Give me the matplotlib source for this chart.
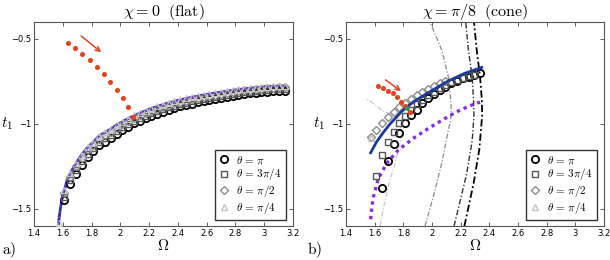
import matplotlib
matplotlib.use("Agg")
import matplotlib.pyplot as plt
from matplotlib.lines import Line2D

plt.rcParams['mathtext.fontset'] = 'cm'
plt.rcParams['font.family'] = ['DejaVu Sans']

# ---------------- data ----------------
omega_grid = [1.571, 1.611, 1.651, 1.692, 1.732, 1.772, 1.812, 1.853, 1.893, 1.933,
              1.974, 2.014, 2.054, 2.094, 2.135, 2.175, 2.215, 2.256, 2.296, 2.336,
              2.376, 2.417, 2.457, 2.497, 2.538, 2.578, 2.618, 2.659, 2.699, 2.739,
              2.780, 2.820, 2.860, 2.900, 2.941, 2.981, 3.021, 3.062, 3.102, 3.142]

# panel a) chi = 0 (flat)
flat_circle = [-1.447, -1.355, -1.292, -1.240, -1.196, -1.161, -1.125, -1.103, -1.082, -1.056,
               -1.036, -1.016, -0.997, -0.982, -0.967, -0.953, -0.941, -0.929, -0.917, -0.907,
               -0.897, -0.889, -0.880, -0.873, -0.865, -0.858, -0.851, -0.845, -0.839, -0.833,
               -0.828, -0.823, -0.819, -0.815, -0.812, -0.809, -0.807, -0.805, -0.804]
flat_square = [-1.427, -1.332, -1.270, -1.219, -1.176, -1.141, -1.106, -1.084, -1.064, -1.039,
               -1.019, -0.999, -0.981, -0.966, -0.951, -0.938, -0.926, -0.914, -0.902, -0.893,
               -0.883, -0.875, -0.867, -0.860, -0.852, -0.846, -0.839, -0.833, -0.828, -0.822,
               -0.817, -0.813, -0.809, -0.805, -0.802, -0.799, -0.797, -0.795, -0.794]
flat_diamond = [-1.407, -1.310, -1.249, -1.198, -1.155, -1.122, -1.087, -1.066, -1.046, -1.021,
                -1.002, -0.982, -0.964, -0.950, -0.936, -0.922, -0.910, -0.899, -0.888, -0.878,
                -0.869, -0.862, -0.853, -0.847, -0.840, -0.834, -0.827, -0.822, -0.817, -0.811,
                -0.806, -0.802, -0.798, -0.795, -0.792, -0.789, -0.787, -0.785, -0.784]
flat_triangle = [-1.585, -1.390, -1.290, -1.230, -1.180, -1.138, -1.105, -1.070, -1.050, -1.030,
                 -1.006, -0.987, -0.968, -0.950, -0.936, -0.922, -0.909, -0.897, -0.886, -0.875,
                 -0.866, -0.857, -0.850, -0.842, -0.836, -0.829, -0.823, -0.817, -0.812, -0.807,
                 -0.802, -0.797, -0.793, -0.789, -0.786, -0.783, -0.780, -0.778, -0.777, -0.776]
flat_curve_omega = [1.5708, 1.573, 1.577, 1.585, 1.595, 1.611, 1.630, 1.651, 1.692, 1.732,
                    1.772, 1.812, 1.853, 1.893, 1.933, 1.974, 2.054, 2.135, 2.215, 2.296,
                    2.376, 2.457, 2.538, 2.618, 2.699, 2.780, 2.860, 2.941, 3.021, 3.102, 3.142]
flat_curve_t = [-1.585, -1.565, -1.535, -1.49, -1.44, -1.39, -1.33, -1.29, -1.23, -1.18,
                -1.138, -1.105, -1.07, -1.05, -1.03, -1.006, -0.968, -0.936, -0.909, -0.886,
                -0.866, -0.850, -0.836, -0.823, -0.812, -0.802, -0.793, -0.786, -0.780, -0.777, -0.776]
flat_red_omega = [1.638, 1.687, 1.736, 1.787, 1.838, 1.884, 1.930, 1.977, 2.018, 2.055, 2.090]
flat_red_t = [-0.522, -0.555, -0.590, -0.625, -0.665, -0.708, -0.751, -0.798, -0.849, -0.902, -0.957]
flat_arrow = [(1.713, -0.472), (1.882, -0.588)]

# panel b) chi = pi/8 (cone)
cone_circle = [-1.378, -1.218, -1.118, -1.051, -0.996, -0.949, -0.915, -0.878, -0.849, -0.824,
               -0.800, -0.780, -0.761, -0.745, -0.731, -0.722, -0.712, -0.702]          # k = 2..19
cone_square = [-1.304, -1.182, -1.104, -1.045, -0.992, -0.951, -0.915, -0.884, -0.856, -0.831,
               -0.809, -0.789, -0.771, -0.755, -0.741, -0.729, -0.719, -0.710]          # k = 1..18
cone_diamond = [-1.075, -1.035, -0.992, -0.958, -0.928, -0.900, -0.874, -0.851, -0.830, -0.810,
                -0.792, -0.776, -0.760, -0.745]                                          # k = 0..13
cone_triangle = [-1.085]                                                                 # k = 0
cone_blue_omega = [1.572, 1.614, 1.660, 1.707, 1.790, 1.870, 1.986, 2.103, 2.219, 2.347]
cone_blue_t = [-1.169, -1.104, -1.050, -1.000, -0.925, -0.870, -0.810, -0.752, -0.705, -0.667]
cone_purple_omega = [1.572, 1.580, 1.591, 1.626, 1.684, 1.765, 1.870, 1.986, 2.126, 2.196, 2.265, 2.335]
cone_purple_t = [-1.56, -1.49, -1.43, -1.32, -1.231, -1.153, -1.084, -1.02, -0.95, -0.918, -0.893, -0.871]
cone_red_omega = [1.626, 1.660, 1.695, 1.726, 1.754, 1.782, 1.812, 1.847]
cone_red_t = [-0.776, -0.790, -0.804, -0.819, -0.839, -0.869, -0.894, -0.928]
cone_green = (1.824, -0.908)
cone_arrow = [(1.660, -0.731), (1.800, -0.816)]
arc_light_omega = [1.637, 1.660, 1.700, 1.742, 1.775, 1.789, 1.780, 1.740, 1.660, 1.580, 1.540]
arc_light_t = [-1.6, -1.5, -1.35, -1.231, -1.12, -1.05, -0.98, -0.95, -0.925, -0.872, -0.85]
arc_grey_omega = [1.951, 2.009, 2.068, 2.114, 2.131, 2.134, 2.131, 2.114, 2.068, 1.986]
arc_grey_t = [-1.6, -1.428, -1.231, -1.035, -0.976, -0.9, -0.859, -0.722, -0.565, -0.4]
arc_a_omega = [2.154, 2.240, 2.280, 2.293, 2.290, 2.280, 2.254, 2.235]
arc_a_t = [-1.6, -1.3, -1.1, -0.95, -0.86, -0.72, -0.565, -0.4]
arc_b_omega = [2.226, 2.290, 2.330, 2.350, 2.348, 2.335, 2.312, 2.293]
arc_b_t = [-1.6, -1.35, -1.15, -0.95, -0.86, -0.72, -0.565, -0.4]

labels = [r'$\theta\,=\,\pi$', r'$\theta\,=\,3\pi/4$', r'$\theta\,=\,\pi/2$', r'$\theta\,=\,\pi/4$']
xticks = [1.4, 1.6, 1.8, 2.0, 2.2, 2.4, 2.6, 2.8, 3.0, 3.2]
xticklabels = ['1.4', '1.6', '1.8', '2', '2.2', '2.4', '2.6', '2.8', '3', '3.2']
yticks = [-1.5, -1.0, -0.5]
yticklabels = ['\u22121.5', '\u22121', '\u22120.5']

# ---------------- styles ----------------
RED = '#e8401c'
BLUE = '#1c3a9a'
PURPLE = '#8a2be2'
mk = dict(linestyle='none', markerfacecolor='none')
st_circle = dict(marker='o', markersize=5.2, markeredgecolor='black', markeredgewidth=1.3, **mk)
st_square = dict(marker='s', markersize=4.2, markeredgecolor='#555555', markeredgewidth=1.0, **mk)
st_diamond = dict(marker='D', markersize=3.8, markeredgecolor='#8c8c8c', markeredgewidth=1.0, **mk)
st_triangle = dict(marker='^', markersize=5.0, markeredgecolor='#c4c4c4', markeredgewidth=1.0, **mk)

fig = plt.figure(figsize=(6.1, 2.6), dpi=100)
axA = fig.add_axes([34/610, 34/260, 259/610, 204/260])
axB = fig.add_axes([346/610, 34/260, 258/610, 204/260])


def style_axes(ax, title):
    ax.set_xlim(1.4, 3.2)
    ax.set_ylim(-1.6, -0.4)
    ax.set_xticks(xticks)
    ax.set_xticklabels(xticklabels)
    ax.set_yticks(yticks)
    ax.set_yticklabels(yticklabels)
    ax.tick_params(direction='in', length=3, width=0.6, labelsize=6, top=True, right=True,
                   colors='#444444', labelcolor='black', pad=2)
    for s in ax.spines.values():
        s.set_color('#555555')
        s.set_linewidth(0.8)
    ax.set_title(title, fontsize=11.5, pad=4)
    ax.set_xlabel(r'$\Omega$', fontsize=11, labelpad=0)
    ax.set_ylabel(r'$t_1$', fontsize=11, rotation=0, labelpad=4)
    ax.yaxis.set_label_coords(-0.105, 0.46)
    handles = [Line2D([], [], **st_circle), Line2D([], [], **st_square),
               Line2D([], [], **st_diamond), Line2D([], [], **st_triangle)]
    leg = ax.legend(handles, labels, loc='lower right', bbox_to_anchor=(0.973, 0.029),
                    borderaxespad=0, fontsize=8, frameon=True, fancybox=False,
                    handlelength=1.0, handletextpad=0.6, labelspacing=0.08,
                    borderpad=0.35, edgecolor='black')
    leg.get_frame().set_linewidth(1.0)
    leg.set_zorder(10)


# panel a
axA.plot(flat_curve_omega, flat_curve_t, color=BLUE, lw=2.0, zorder=1)
axA.plot(omega_grid[1:], flat_circle, zorder=2, **st_circle)
axA.plot(omega_grid[1:], flat_square, zorder=3, **st_square)
axA.plot(omega_grid[1:], flat_diamond, zorder=4, **st_diamond)
axA.plot(omega_grid, flat_triangle, zorder=5, **st_triangle)
axA.plot(flat_curve_omega, flat_curve_t, color=PURPLE, lw=1.3, linestyle=(0, (1, 2)), zorder=6)
axA.plot(flat_red_omega, flat_red_t, 'o', color=RED, markersize=2.6, zorder=7)
axA.annotate('', xy=flat_arrow[1], xytext=flat_arrow[0],
             arrowprops=dict(arrowstyle='->', color=RED, lw=1.1, mutation_scale=8), zorder=8)
style_axes(axA, r'$\chi=0\ \ \mathrm{(flat)}$')

# panel b
dd = (0, (4, 1.5, 1, 1.5))
axB.plot(arc_light_omega, arc_light_t, color='#c8c8c8', lw=0.9, linestyle=dd, zorder=1)
axB.plot(arc_grey_omega, arc_grey_t, color='#8a8a8a', lw=0.9, linestyle=dd, zorder=1)
axB.plot(arc_a_omega, arc_a_t, color='#333333', lw=1.0, linestyle=dd, zorder=1)
axB.plot(arc_b_omega, arc_b_t, color='black', lw=1.3, linestyle=dd, zorder=1)
axB.plot(cone_purple_omega, cone_purple_t, color=PURPLE, lw=2.4, linestyle=(0, (1, 1.2)), zorder=2)
axB.plot(omega_grid[2:20], cone_circle, zorder=3, **st_circle)
axB.plot(omega_grid[1:19], cone_square, zorder=4, **st_square)
axB.plot(omega_grid[0:14], cone_diamond, zorder=5, **st_diamond)
axB.plot(omega_grid[0:1], cone_triangle, zorder=5, **st_triangle)
axB.plot(cone_blue_omega, cone_blue_t, color=BLUE, lw=2.0, zorder=6)
axB.plot(cone_red_omega, cone_red_t, 'o', color=RED, markersize=2.6, zorder=7)
axB.plot([cone_green[0]], [cone_green[1]], 'o', color='#2e9b4a', markersize=2.4, zorder=7)
axB.annotate('', xy=cone_arrow[1], xytext=cone_arrow[0],
             arrowprops=dict(arrowstyle='->', color=RED, lw=1.1, mutation_scale=8), zorder=8)
style_axes(axB, r'$\chi=\pi/8\ \ \mathrm{(cone)}$')

fig.text(2/610, 1 - 250/260, r'$\mathrm{a)}$', fontsize=11, va='center', ha='left')
fig.text(307/610, 1 - 250/260, r'$\mathrm{b)}$', fontsize=11, va='center', ha='left')

fig.savefig('out.png', dpi=100)
